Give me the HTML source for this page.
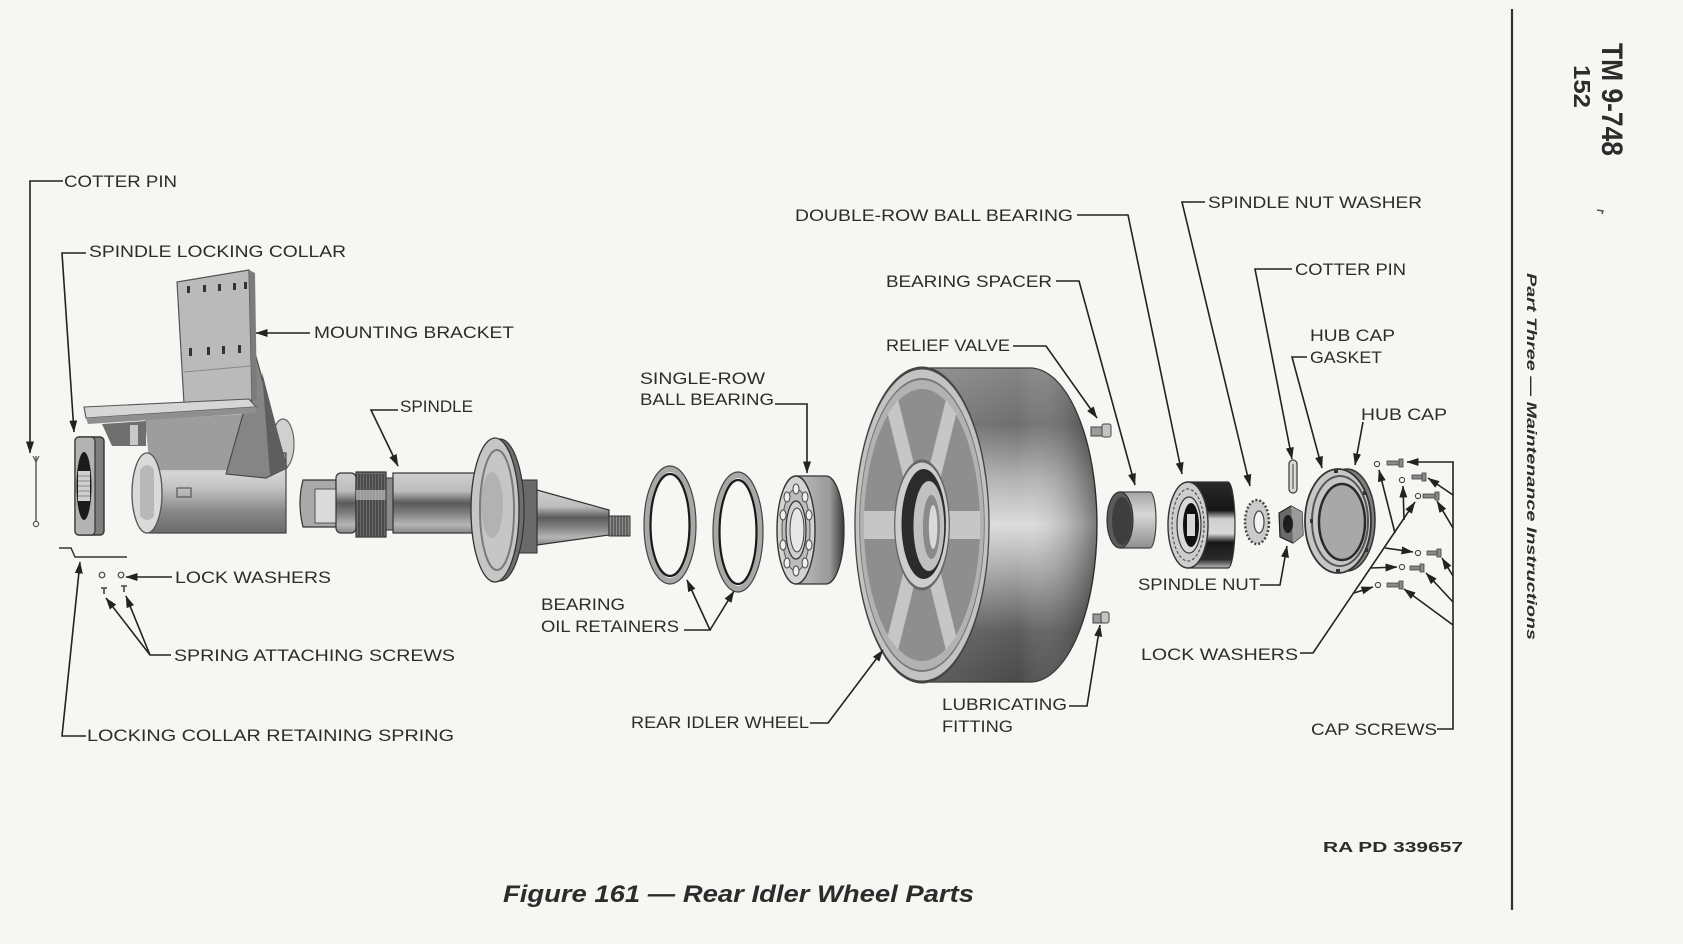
<!DOCTYPE html>
<html><head><meta charset="utf-8">
<style>
html,body{margin:0;padding:0;background:#f6f6f3;}
svg{display:block;}
text{font-family:"Liberation Sans",Arial,sans-serif;fill:#2c2c2c;}
.l{font-size:17px;}
.c{fill:none;stroke:#222;stroke-width:1.6;}
</style></head><body>
<svg width="1683" height="944" viewBox="0 0 1683 944" xmlns="http://www.w3.org/2000/svg">
<defs>
<marker id="a" viewBox="0 0 12 8" refX="11.5" refY="4" markerWidth="12" markerHeight="8" orient="auto" markerUnits="userSpaceOnUse"><path d="M0,0 L12,4 L0,8 z" fill="#222"/></marker>
<linearGradient id="wb" x1="0" y1="0" x2="0" y2="1">
<stop offset="0" stop-color="#858585"/><stop offset="0.18" stop-color="#6f6f6f"/><stop offset="0.36" stop-color="#b4b4b4"/><stop offset="0.5" stop-color="#dcdcdc"/><stop offset="0.64" stop-color="#ababab"/><stop offset="0.84" stop-color="#5c5c5c"/><stop offset="1" stop-color="#4a4a4a"/>
</linearGradient>
<linearGradient id="wr" x1="0" y1="0" x2="1" y2="0">
<stop offset="0" stop-color="#fff" stop-opacity="0.12"/><stop offset="0.55" stop-color="#fff" stop-opacity="0"/><stop offset="1" stop-color="#000" stop-opacity="0.45"/>
</linearGradient>
<linearGradient id="gc" x1="0" y1="0" x2="0" y2="1">
<stop offset="0" stop-color="#9c9c9c"/><stop offset="0.25" stop-color="#d6d6d6"/><stop offset="0.45" stop-color="#c0c0c0"/><stop offset="0.72" stop-color="#8a8a8a"/><stop offset="1" stop-color="#6a6a6a"/>
</linearGradient>
<linearGradient id="gs" x1="0" y1="0" x2="0" y2="1">
<stop offset="0" stop-color="#cfcfcf"/><stop offset="0.3" stop-color="#bdbdbd"/><stop offset="0.5" stop-color="#5a5a5a"/><stop offset="0.66" stop-color="#7d7d7d"/><stop offset="0.86" stop-color="#b5b5b5"/><stop offset="1" stop-color="#888"/>
</linearGradient>
<linearGradient id="gd" x1="0" y1="0" x2="0" y2="1">
<stop offset="0" stop-color="#2a2a2a"/><stop offset="0.33" stop-color="#161616"/><stop offset="0.43" stop-color="#cfcfcf"/><stop offset="0.6" stop-color="#d8d8d8"/><stop offset="0.7" stop-color="#181818"/><stop offset="0.9" stop-color="#2a2a2a"/><stop offset="1" stop-color="#bdbdbd"/>
</linearGradient>
<linearGradient id="gl" x1="0" y1="0" x2="0" y2="1">
<stop offset="0" stop-color="#a5a5a5"/><stop offset="0.4" stop-color="#d8d8d8"/><stop offset="1" stop-color="#8e8e8e"/>
</linearGradient>
<linearGradient id="gb" x1="0" y1="0" x2="1" y2="0">
<stop offset="0" stop-color="#bdbdbd"/><stop offset="0.7" stop-color="#9a9a9a"/><stop offset="1" stop-color="#3a3a3a"/>
</linearGradient>
</defs>

<!-- right margin -->
<line x1="1512" y1="9" x2="1512" y2="910" stroke="#333" stroke-width="2.2"/>
<text transform="translate(1602,43) rotate(90)" font-size="30" font-weight="bold" textLength="113" lengthAdjust="spacingAndGlyphs">TM 9-748</text>
<text transform="translate(1574,65) rotate(90)" font-size="23" font-weight="bold" textLength="43" lengthAdjust="spacingAndGlyphs">152</text>
<text transform="translate(1527,273) rotate(90)" font-size="14" font-weight="bold" font-style="italic" textLength="367" lengthAdjust="spacingAndGlyphs">Part Three — Maintenance Instructions</text>
<path d="M1597,210 l6,1 l-1,3" stroke="#555" stroke-width="1.5" fill="none"/>

<!-- ===== LEFT PARTS ===== -->
<line x1="36" y1="456" x2="36" y2="521" stroke="#555" stroke-width="1.4"/>
<path d="M33,456 L36,462 L39,456" stroke="#555" fill="none" stroke-width="1.2"/>
<circle cx="36" cy="524" r="2.6" fill="none" stroke="#555" stroke-width="1.2"/>
<rect x="75" y="437" width="29" height="98" rx="4" fill="#7e7e7e" stroke="#333" stroke-width="1.4"/>
<rect x="75" y="437" width="20" height="98" rx="4" fill="#b3b3b3" stroke="#333" stroke-width="1.2"/>
<ellipse cx="84" cy="486" rx="7.5" ry="34" fill="#1b1b1b"/>
<rect x="78" y="471" width="12" height="30" fill="#cfcfcf"/>
<path d="M78,476 h12 M78,481 h12 M78,486 h12 M78,491 h12 M78,496 h12" stroke="#888" stroke-width="1"/>
<polyline points="59,548 71,548 75,557 127,557" fill="none" stroke="#333" stroke-width="1.5"/>
<circle cx="102" cy="575" r="2.8" fill="none" stroke="#444" stroke-width="1.2"/>
<circle cx="121" cy="575" r="2.8" fill="none" stroke="#444" stroke-width="1.2"/>
<path d="M101,588 h6 M104,588 v6 M121,586 h6 M124,586 v6" stroke="#444" stroke-width="1.6"/>

<!-- mounting bracket -->
<ellipse cx="283" cy="444" rx="11" ry="25" fill="#d0d0d0" stroke="#666" stroke-width="1.2"/>
<rect x="147" y="453" width="139" height="80" fill="url(#gc)" stroke="#444" stroke-width="1.2"/>
<polygon points="145,420 246,414 236,470 150,470" fill="#9d9d9d"/>
<ellipse cx="147" cy="493" rx="15" ry="40" fill="#dadada" stroke="#555" stroke-width="1.3"/>
<path d="M140,470 q8,-10 14,0 v46 q-6,8 -14,0 z" fill="#b8b8b8"/>
<rect x="177" y="488" width="14" height="9" fill="none" stroke="#444" stroke-width="1"/>
<polygon points="250,335 287,468 266,478 226,474 245,407 252,400" fill="#858585" stroke="#444" stroke-width="1.1"/>
<polygon points="262,372 287,468 270,476" fill="#5e5e5e"/>
<polygon points="177,282 249,270 252,400 184,404" fill="#bababa" stroke="#555" stroke-width="1.2"/>
<polygon points="249,270 255,273 257,400 252,400" fill="#7c7c7c"/>
<g fill="#333">
<rect x="187" y="286" width="3" height="7"/><rect x="203" y="285" width="3" height="7"/><rect x="218" y="284" width="3" height="7"/><rect x="233" y="283" width="3" height="7"/><rect x="244" y="282" width="3" height="7"/>
<rect x="189" y="348" width="3" height="8"/><rect x="207" y="347" width="3" height="8"/><rect x="222" y="346" width="3" height="8"/><rect x="238" y="345" width="3" height="8"/>
</g>
<line x1="184" y1="372" x2="251" y2="366" stroke="#888" stroke-width="1"/>
<polygon points="84,407 249,399 256,407 86,418" fill="#d6d6d6" stroke="#555" stroke-width="1.1"/>
<polygon points="86,418 256,407 256,413 88,424" fill="#8f8f8f"/>
<polygon points="102,424 146,421 146,446 112,446" fill="#6f6f6f"/>
<rect x="130" y="425" width="8" height="20" fill="#c9c9c9"/>

<!-- spindle -->
<path d="M303,480 L336,480 L336,527 L303,527 Q297,503 303,480 z" fill="#a9a9a9" stroke="#333" stroke-width="1.2"/>
<rect x="315" y="489" width="21" height="34" fill="#dadada" stroke="#555" stroke-width="1"/>
<rect x="336" y="473" width="20" height="60" rx="5" fill="url(#gs)" stroke="#333" stroke-width="1.2"/>
<rect x="356" y="472" width="30" height="65" fill="#6b6b6b" stroke="#333" stroke-width="1.2"/>
<path d="M359,474 v62 M362,474 v62 M365,474 v62 M368,474 v62 M371,474 v62 M374,474 v62 M377,474 v62 M380,474 v62 M383,474 v62" stroke="#2a2a2a" stroke-width="1"/>
<rect x="356" y="490" width="30" height="10" fill="#bdbdbd" opacity="0.7"/>
<rect x="386" y="478" width="8" height="52" fill="#8a8a8a" stroke="#333" stroke-width="1"/>
<rect x="393" y="473" width="88" height="60" fill="url(#gs)" stroke="#333" stroke-width="1.2"/>
<rect x="515" y="480" width="22" height="73" fill="#6a6a6a" stroke="#333" stroke-width="1"/>
<ellipse cx="500" cy="510" rx="24" ry="71" fill="#6e6e6e" stroke="#333" stroke-width="1.2"/>
<ellipse cx="495" cy="510" rx="24" ry="72" fill="#c6c6c6" stroke="#333" stroke-width="1.3"/>
<ellipse cx="497" cy="510" rx="17" ry="60" fill="none" stroke="#7a7a7a" stroke-width="2"/>
<ellipse cx="492" cy="505" rx="11" ry="33" fill="#b2b2b2"/>
<polygon points="537,490 609,510 609,535 537,545" fill="url(#gs)" stroke="#333" stroke-width="1.2"/>
<rect x="609" y="516" width="21" height="20" fill="#8c8c8c" stroke="#333" stroke-width="1"/>
<path d="M612,516 v20 M615,516 v20 M618,516 v20 M621,516 v20 M624,516 v20 M627,516 v20" stroke="#333" stroke-width="1"/>

<!-- oil retainers -->
<ellipse cx="670" cy="525" rx="23" ry="56" fill="none" stroke="#a8a8a8" stroke-width="6"/>
<ellipse cx="670" cy="525" rx="19.5" ry="51" fill="none" stroke="#1a1a1a" stroke-width="2.2"/>
<ellipse cx="670" cy="525" rx="26" ry="59" fill="none" stroke="#444" stroke-width="1.2"/>
<ellipse cx="738" cy="532" rx="22" ry="57" fill="none" stroke="#a8a8a8" stroke-width="6"/>
<ellipse cx="738" cy="532" rx="18.5" ry="52" fill="none" stroke="#1a1a1a" stroke-width="2.2"/>
<ellipse cx="738" cy="532" rx="25" ry="60" fill="none" stroke="#444" stroke-width="1.2"/>

<!-- single-row bearing -->
<path d="M796,476 L826,476 A18,54 0 0 1 826,584 L796,584 Z" fill="url(#gb)" stroke="#333" stroke-width="1.3"/>
<ellipse cx="796" cy="530" rx="19" ry="54" fill="#d3d3d3" stroke="#333" stroke-width="1.4"/>
<ellipse cx="796" cy="530" rx="14" ry="41" fill="#bcbcbc" stroke="#555" stroke-width="1"/>
<g fill="#efefef" stroke="#444" stroke-width="1">
<ellipse cx="796" cy="489" rx="3" ry="5"/><ellipse cx="805" cy="497" rx="3" ry="5"/><ellipse cx="809" cy="515" rx="3" ry="5"/><ellipse cx="809" cy="545" rx="3" ry="5"/><ellipse cx="805" cy="563" rx="3" ry="5"/><ellipse cx="796" cy="571" rx="3" ry="5"/><ellipse cx="787" cy="563" rx="3" ry="5"/><ellipse cx="783" cy="545" rx="3" ry="5"/><ellipse cx="783" cy="515" rx="3" ry="5"/><ellipse cx="787" cy="497" rx="3" ry="5"/>
</g>
<ellipse cx="796" cy="530" rx="10" ry="29" fill="#cfcfcf" stroke="#333" stroke-width="1.2"/>
<ellipse cx="797" cy="530" rx="7" ry="22" fill="#e8e8e8" stroke="#444" stroke-width="1"/>

<!-- wheel -->
<path d="M922,368 L1030,368 A67,157 0 0 1 1030,682 L922,682 Z" fill="url(#wb)" stroke="#333" stroke-width="1.3"/>
<path d="M922,368 L1030,368 A67,157 0 0 1 1030,682 L922,682 Z" fill="url(#wr)"/>
<g transform="translate(922,525) scale(0.427,1)">
<circle r="157" fill="#c3c3c3" stroke="#444" stroke-width="3"/>
<circle r="146" fill="#b2b2b2" stroke="#777" stroke-width="2"/>
<circle r="136" fill="#8e8e8e"/>
<g stroke="#c6c6c6" stroke-width="28">
<line x1="0" y1="0" x2="136" y2="0"/><line x1="0" y1="0" x2="68" y2="-118"/><line x1="0" y1="0" x2="-68" y2="-118"/><line x1="0" y1="0" x2="-136" y2="0"/><line x1="0" y1="0" x2="-68" y2="118"/><line x1="0" y1="0" x2="68" y2="118"/>
</g>
<circle r="64" fill="#cdcdcd" stroke="#666" stroke-width="3"/>
<ellipse cx="4" cy="-1" rx="52" ry="55" fill="#2b2b2b"/>
<ellipse cx="16" cy="1" rx="36" ry="45" fill="#c0c0c0"/>
<ellipse cx="22" cy="2" rx="20" ry="32" fill="#8a8a8a"/>
<ellipse cx="26" cy="2" rx="10" ry="22" fill="#d9d9d9"/>
</g>
<rect x="1091" y="427" width="12" height="9" fill="#9a9a9a" stroke="#444" stroke-width="1"/>
<rect x="1102" y="424" width="9" height="13" rx="2" fill="#c4c4c4" stroke="#444" stroke-width="1"/>
<rect x="1093" y="614" width="9" height="9" fill="#9a9a9a" stroke="#444" stroke-width="1"/>
<rect x="1101" y="612" width="8" height="11" rx="2" fill="#c4c4c4" stroke="#444" stroke-width="1"/>

<!-- ===== RIGHT PARTS ===== -->
<path d="M1120,492 L1150,492 A6,28 0 0 1 1150,548 L1120,548 Z" fill="url(#gl)" stroke="#444" stroke-width="1.2"/>
<ellipse cx="1120" cy="520" rx="13" ry="28" fill="#5a5a5a" stroke="#333" stroke-width="1.2"/>
<ellipse cx="1122" cy="521" rx="10" ry="24" fill="#3e3e3e"/>
<path d="M1188,482 L1228,482 A7,43 0 0 1 1228,568 L1188,568 Z" fill="url(#gd)" stroke="#333" stroke-width="1.2"/>
<ellipse cx="1188" cy="525" rx="20" ry="43" fill="#cdcdcd" stroke="#333" stroke-width="1.4"/>
<ellipse cx="1188" cy="525" rx="16" ry="36" fill="none" stroke="#555" stroke-width="1.2" stroke-dasharray="3 2"/>
<ellipse cx="1189" cy="525" rx="12" ry="28" fill="#dadada" stroke="#333" stroke-width="1.2"/>
<ellipse cx="1191" cy="525" rx="8" ry="22" fill="#111"/>
<rect x="1187" y="514" width="8" height="22" fill="#d6d6d6"/>
<ellipse cx="1257" cy="522" rx="12" ry="22" fill="#cbcbcb" stroke="#444" stroke-width="2.5" stroke-dasharray="2 2"/>
<ellipse cx="1259" cy="522" rx="5" ry="11" fill="#f3f3f3" stroke="#444" stroke-width="1.2"/>
<polygon points="1279,513 1291,506 1302,512 1303,535 1293,543 1280,537" fill="#6a6a6a" stroke="#222" stroke-width="1.2"/>
<polygon points="1291,506 1302,512 1303,535 1293,543" fill="#9a9a9a"/>
<ellipse cx="1288" cy="524" rx="5" ry="9" fill="#1e1e1e"/>
<rect x="1289" y="460" width="8" height="33" rx="4" fill="#d8d8d8" stroke="#444" stroke-width="1.3"/>
<line x1="1293" y1="464" x2="1293" y2="489" stroke="#444" stroke-width="1"/>
<ellipse cx="1347" cy="520" rx="28" ry="51" fill="#7d7d7d" stroke="#333" stroke-width="1.5"/>
<ellipse cx="1338" cy="521" rx="33" ry="52" fill="#c6c6c6" stroke="#333" stroke-width="1.8"/>
<ellipse cx="1340" cy="521" rx="28" ry="45" fill="none" stroke="#555" stroke-width="2"/>
<ellipse cx="1342" cy="522" rx="23" ry="38" fill="#a8a8a8" stroke="#2a2a2a" stroke-width="2.5"/>
<g fill="#333"><rect x="1334" y="470" width="4" height="3"/><rect x="1363" y="491" width="3" height="4"/><rect x="1365" y="548" width="3" height="4"/><rect x="1310" y="519" width="3" height="4"/><rect x="1336" y="569" width="4" height="3"/></g>
<g fill="none" stroke="#444" stroke-width="1.1">
<circle cx="1377" cy="464" r="2.6"/><circle cx="1402" cy="480" r="2.6"/><circle cx="1418" cy="496" r="2.6"/><circle cx="1418" cy="553" r="2.6"/><circle cx="1402" cy="567" r="2.6"/><circle cx="1378" cy="585" r="2.6"/>
</g>
<g fill="#8a8a8a" stroke="#444" stroke-width="0.8">
<rect x="1387" y="461" width="13" height="4"/><rect x="1399" y="459" width="4" height="8"/>
<rect x="1412" y="475" width="11" height="4"/><rect x="1422" y="473" width="4" height="8"/>
<rect x="1423" y="494" width="13" height="4"/><rect x="1435" y="492" width="4" height="8"/>
<rect x="1427" y="551" width="11" height="4"/><rect x="1437" y="549" width="4" height="8"/>
<rect x="1410" y="566" width="11" height="4"/><rect x="1420" y="564" width="4" height="8"/>
<rect x="1387" y="583" width="13" height="4"/><rect x="1399" y="581" width="4" height="8"/>
</g>

<!-- ===== CONNECTORS ===== -->
<g class="c" marker-end="url(#a)">
<polyline points="63,181 30,181 30,453"/>
<polyline points="86,253 62,253 74,432"/>
<polyline points="310,333 256,333"/>
<polyline points="398,410 371,410 398,466"/>
<polyline points="172,577 126,577"/>
<polyline points="171,655 150,655 106,598"/>
<polyline points="150,655 126,596"/>
<polyline points="86,736 62,736 80,562"/>
<polyline points="775,404 807,404 807,473"/>
<polyline points="684,630 710,630 687,580"/>
<polyline points="710,630 734,591"/>
<polyline points="810,723 828,723 883,650"/>
<polyline points="1077,215 1128,215 1182,474"/>
<polyline points="1056,281 1079,281 1135,485"/>
<polyline points="1013,346 1046,346 1097,418"/>
<polyline points="1069,706 1087,706 1100,625"/>
<polyline points="1205,202 1182,202 1250,486"/>
<polyline points="1292,269 1255,269 1292,459"/>
<polyline points="1307,357 1292,357 1322,468"/>
<polyline points="1363,422 1355,465"/>
<polyline points="1260,585 1280,585 1287,546"/>
<polyline points="1300,653 1313,653 1415,502"/>
<polyline points="1395,533 1379,470"/>
<polyline points="1404,520 1403,486"/>
<polyline points="1385,548 1413,552"/>
<polyline points="1371,568 1397,567"/>
<polyline points="1354,593 1373,587"/>
<polyline points="1437,729 1453,729 1453,462 1407,462"/>
<polyline points="1453,495 1428,478"/>
<polyline points="1453,528 1437,501"/>
<polyline points="1453,576 1442,558"/>
<polyline points="1453,602 1426,573"/>
<polyline points="1453,625 1404,589"/>
</g>

<!-- ===== LABELS ===== -->
<g class="l">
<text x="64" y="187" textLength="113" lengthAdjust="spacingAndGlyphs">COTTER PIN</text>
<text x="89" y="257" textLength="257" lengthAdjust="spacingAndGlyphs">SPINDLE LOCKING COLLAR</text>
<text x="314" y="338" textLength="200" lengthAdjust="spacingAndGlyphs">MOUNTING BRACKET</text>
<text x="400" y="412" textLength="73" lengthAdjust="spacingAndGlyphs">SPINDLE</text>
<text x="175" y="583" textLength="156" lengthAdjust="spacingAndGlyphs">LOCK WASHERS</text>
<text x="174" y="661" textLength="281" lengthAdjust="spacingAndGlyphs">SPRING ATTACHING SCREWS</text>
<text x="87" y="741" textLength="367" lengthAdjust="spacingAndGlyphs">LOCKING COLLAR RETAINING SPRING</text>
<text x="640" y="384" textLength="125" lengthAdjust="spacingAndGlyphs">SINGLE-ROW</text>
<text x="640" y="405" textLength="134" lengthAdjust="spacingAndGlyphs">BALL BEARING</text>
<text x="541" y="610" textLength="84" lengthAdjust="spacingAndGlyphs">BEARING</text>
<text x="541" y="632" textLength="138" lengthAdjust="spacingAndGlyphs">OIL RETAINERS</text>
<text x="631" y="728" textLength="178" lengthAdjust="spacingAndGlyphs">REAR IDLER WHEEL</text>
<text x="795" y="221" textLength="278" lengthAdjust="spacingAndGlyphs">DOUBLE-ROW BALL BEARING</text>
<text x="886" y="287" textLength="166" lengthAdjust="spacingAndGlyphs">BEARING SPACER</text>
<text x="886" y="351" textLength="124" lengthAdjust="spacingAndGlyphs">RELIEF VALVE</text>
<text x="942" y="710" textLength="125" lengthAdjust="spacingAndGlyphs">LUBRICATING</text>
<text x="942" y="732" textLength="71" lengthAdjust="spacingAndGlyphs">FITTING</text>
<text x="1208" y="208" textLength="214" lengthAdjust="spacingAndGlyphs">SPINDLE NUT WASHER</text>
<text x="1295" y="275" textLength="111" lengthAdjust="spacingAndGlyphs">COTTER PIN</text>
<text x="1310" y="341" textLength="85" lengthAdjust="spacingAndGlyphs">HUB CAP</text>
<text x="1310" y="363" textLength="72" lengthAdjust="spacingAndGlyphs">GASKET</text>
<text x="1361" y="420" textLength="86" lengthAdjust="spacingAndGlyphs">HUB CAP</text>
<text x="1138" y="590" textLength="122" lengthAdjust="spacingAndGlyphs">SPINDLE NUT</text>
<text x="1141" y="660" textLength="157" lengthAdjust="spacingAndGlyphs">LOCK WASHERS</text>
<text x="1311" y="735" textLength="126" lengthAdjust="spacingAndGlyphs">CAP SCREWS</text>
</g>

<text x="1323" y="852" font-size="15" font-weight="bold" textLength="140" lengthAdjust="spacingAndGlyphs">RA PD 339657</text>
<text x="503" y="902" font-size="24" font-weight="bold" font-style="italic" textLength="471" lengthAdjust="spacingAndGlyphs">Figure 161 — Rear Idler Wheel Parts</text>
</svg>
</body></html>
